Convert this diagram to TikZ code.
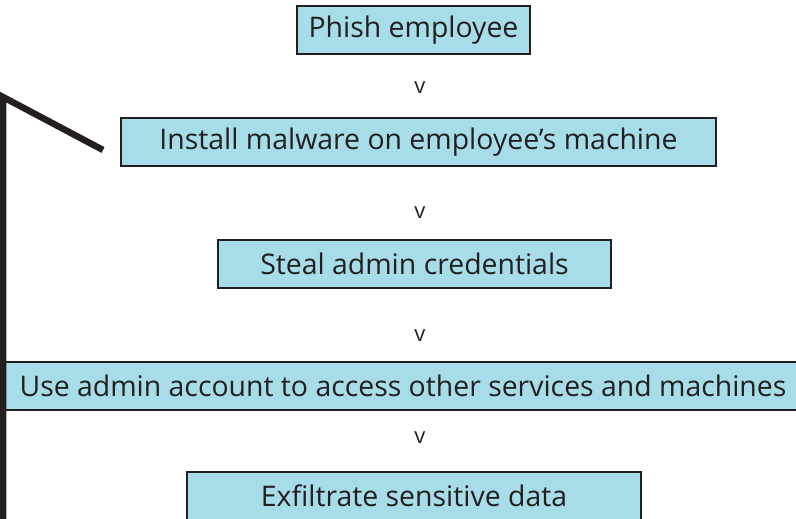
\documentclass[tikz,border=0pt]{standalone}
\usepackage{fontspec}
\setmainfont{Open Sans}
\definecolor{boxfill}{HTML}{A6DDE9}
\definecolor{ink}{HTML}{231F20}
\begin{document}
\begin{tikzpicture}[x=1pt,y=-1pt,
  stepbox/.style={draw=ink, line width=2pt, fill=boxfill, inner sep=0pt,
    font=\fontsize{28.4}{32}\selectfont, text=ink},
  vmark/.style={font=\fontsize{22}{26}\selectfont, text=ink}]
\useasboundingbox (0,0) rectangle (796,519);
% flow boxes, given by their corners
\node[stepbox, minimum width=233pt, minimum height=48pt] (b1) at (413.5,30) {Phish employee};
\node[stepbox, minimum width=595pt, minimum height=48pt] (b2) at (418.5,142) {Install malware on employee’s machine};
\node[stepbox, minimum width=393pt, minimum height=48pt] (b3) at (414.5,264) {Steal admin credentials};
\node[stepbox, minimum width=796pt, minimum height=48pt] (b4) at (403,386) {Use admin account to access other services and machines};
\node[stepbox, minimum width=454pt, minimum height=48pt] (b5) at (414,496) {Exfiltrate sensitive data};
% separators between the steps
\node[vmark] (v1) at (420,88) {v};
\node[vmark] (v2) at (420,213) {v};
\node[vmark] (v3) at (420,336) {v};
\node[vmark] (v4) at (420,438) {v};
% thick bracket on the left
\coordinate (top) at (3,97);
\coordinate (bot) at (3,530);
\coordinate (tip) at (103,150);
\draw[ink, line width=6.5pt] (bot) -- (top) -- (tip);
\end{tikzpicture}
\end{document}
